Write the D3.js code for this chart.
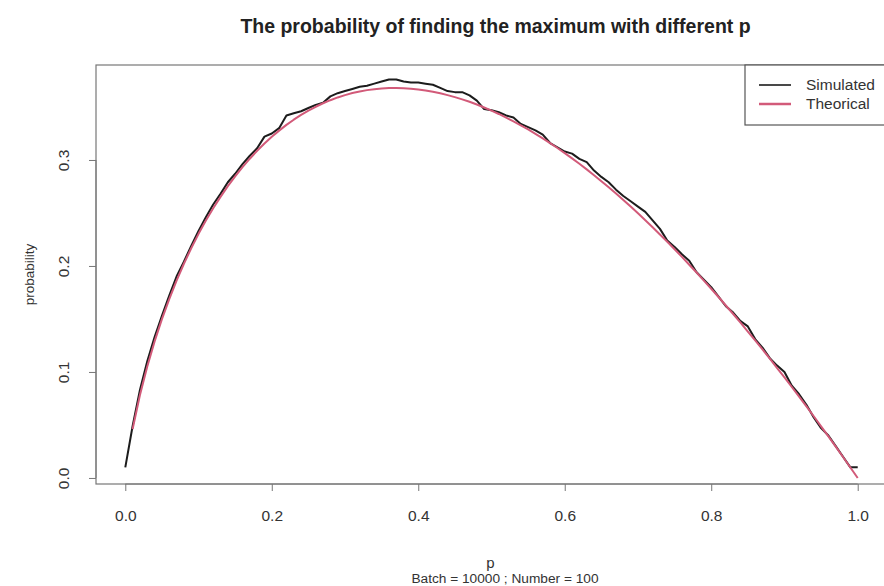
<!DOCTYPE html>
<html>
<head>
<meta charset="utf-8">
<script src="https://cdn.jsdelivr.net/npm/d3@7"></script>
<style>
  body { margin: 0; background: #fff; }
  text { font-family: "Liberation Sans", Arial, sans-serif; }
</style>
</head>
<body>
<div id="container"></div>
<script>
// p values from 0 to 1 in steps of 0.01
const pValues = d3.range(0, 101).map(i => i / 100);

// simulated probability
const simulated = [
  0.0100, 0.0490, 0.0830, 0.1100, 0.1330, 0.1530, 0.1720, 0.1900, 0.2040, 0.2190,
  0.2330, 0.2460, 0.2580, 0.2680, 0.2790, 0.2870, 0.2960, 0.3040, 0.3110, 0.3220,
  0.3250, 0.3300, 0.3420, 0.3440, 0.3460, 0.3490, 0.3520, 0.3540, 0.3600, 0.3630,
  0.3650, 0.3670, 0.3690, 0.3700, 0.3720, 0.3740, 0.3760, 0.3760, 0.3740, 0.3730,
  0.3730, 0.3720, 0.3710, 0.3680, 0.3650, 0.3640, 0.3640, 0.3610, 0.3560, 0.3480,
  0.3470, 0.3450, 0.3420, 0.3400, 0.3340, 0.3310, 0.3280, 0.3240, 0.3160, 0.3120,
  0.3080, 0.3060, 0.3010, 0.2980, 0.2900, 0.2840, 0.2790, 0.2720, 0.2660, 0.2610,
  0.2560, 0.2510, 0.2430, 0.2350, 0.2240, 0.2180, 0.2110, 0.2050, 0.1940, 0.1870,
  0.1800, 0.1710, 0.1620, 0.1560, 0.1480, 0.1430, 0.1310, 0.1230, 0.1130, 0.1060,
  0.1000, 0.0870, 0.0790, 0.0690, 0.0570, 0.0470, 0.0400, 0.0300, 0.0200, 0.0100,
  0.0100
];

// theoretical probability (none drawn at p = 0)
const theorical = [
  null,   0.0461, 0.0782, 0.1052, 0.1288, 0.1498, 0.1688, 0.1862, 0.2021, 0.2167,
  0.2303, 0.2428, 0.2544, 0.2652, 0.2753, 0.2846, 0.2932, 0.3012, 0.3087, 0.3155,
  0.3219, 0.3277, 0.3331, 0.3380, 0.3425, 0.3466, 0.3502, 0.3535, 0.3564, 0.3590,
  0.3612, 0.3631, 0.3646, 0.3659, 0.3668, 0.3674, 0.3678, 0.3679, 0.3677, 0.3672,
  0.3665, 0.3656, 0.3643, 0.3629, 0.3612, 0.3593, 0.3572, 0.3549, 0.3523, 0.3495,
  0.3466, 0.3434, 0.3400, 0.3365, 0.3327, 0.3288, 0.3247, 0.3204, 0.3159, 0.3113,
  0.3065, 0.3015, 0.2964, 0.2911, 0.2856, 0.2800, 0.2742, 0.2683, 0.2623, 0.2560,
  0.2497, 0.2432, 0.2365, 0.2297, 0.2228, 0.2158, 0.2086, 0.2012, 0.1938, 0.1862,
  0.1785, 0.1707, 0.1627, 0.1547, 0.1465, 0.1381, 0.1297, 0.1212, 0.1125, 0.1037,
  0.0948, 0.0858, 0.0767, 0.0675, 0.0582, 0.0487, 0.0392, 0.0295, 0.0198, 0.0099,
  0.0000
];

const xTicks = [0, 0.2, 0.4, 0.6, 0.8, 1.0];
const yTicks = [0, 0.1, 0.2, 0.3];
const legendLabels = ['Simulated', 'Theorical'];

const W = 884, H = 586;
const box = { left: 96, right: 887, top: 65, bottom: 484 };
const simColor = '#1c1c1c';
const theoColor = '#d25a79';
const textColor = '#333';
const fontFamily = '"Liberation Sans", Arial, sans-serif';

const svg = d3.select('#container')
    .append('svg')
    .attr('width', W)
    .attr('height', H);

const x = d3.scaleLinear().domain([-0.04, 1.04]).range([box.left, box.right]);
const y = d3.scaleLinear().domain([-0.0057, 0.3896]).range([box.bottom, box.top]);

// title
svg.append('text')
    .attr('x', (box.left + box.right) / 2 + 4)
    .attr('y', 33)
    .attr('text-anchor', 'middle')
    .attr('font-size', 19.5)
    .attr('font-weight', 'bold')
    .attr('fill', '#222')
    .text('The probability of finding the maximum with different p');

// x axis
const xAxis = svg.append('g')
    .attr('transform', `translate(0, ${box.bottom})`)
    .call(d3.axisBottom(x).tickValues(xTicks).tickFormat(d3.format('.1f')).tickSize(7).tickPadding(19));
xAxis.select('.domain').attr('d', `M${x(0)},0H${x(1)}`).attr('stroke', '#777');
xAxis.selectAll('.tick line').attr('stroke', '#777');
xAxis.selectAll('.tick text').attr('font-size', 15.5).attr('fill', textColor)
    .attr('font-family', fontFamily);

// y axis
const yAxis = svg.append('g')
    .attr('transform', `translate(${box.left}, 0)`)
    .call(d3.axisLeft(y).tickValues(yTicks).tickFormat(d3.format('.1f')).tickSize(7));
yAxis.select('.domain').attr('d', `M0,${y(0)}V${y(0.3)}`).attr('stroke', '#777');
yAxis.selectAll('.tick line').attr('stroke', '#777');
yAxis.selectAll('.tick text').remove();
yAxis.selectAll('.tick').append('text')
    .attr('transform', 'translate(-32, 0) rotate(-90)')
    .attr('text-anchor', 'middle')
    .attr('dy', '0.35em')
    .attr('font-size', 15.5)
    .attr('fill', textColor)
    .attr('font-family', fontFamily)
    .text(d => d3.format('.1f')(d));

// plot box
svg.append('rect')
    .attr('x', box.left)
    .attr('y', box.top)
    .attr('width', box.right - box.left)
    .attr('height', box.bottom - box.top)
    .attr('fill', 'none')
    .attr('stroke', '#777')
    .attr('stroke-width', 1.2);

// axis titles
svg.append('text')
    .attr('transform', `translate(34, ${(box.top + box.bottom) / 2}) rotate(-90)`)
    .attr('text-anchor', 'middle')
    .attr('font-size', 13.5)
    .attr('fill', textColor)
    .text('probability');

svg.append('text')
    .attr('x', (box.left + box.right) / 2 - 1)
    .attr('y', 568)
    .attr('text-anchor', 'middle')
    .attr('font-size', 15)
    .attr('fill', textColor)
    .text('p');

svg.append('text')
    .attr('x', 505)
    .attr('y', 583)
    .attr('text-anchor', 'middle')
    .attr('font-size', 13.7)
    .attr('fill', textColor)
    .text('Batch = 10000 ; Number = 100');

// curves
const line = d3.line()
    .defined(d => d.v !== null)
    .x(d => x(d.p))
    .y(d => y(d.v));

const simData = pValues.map((p, i) => ({ p: p, v: simulated[i] }));
const theoData = pValues.map((p, i) => ({ p: p, v: theorical[i] }));

svg.append('path')
    .datum(simData)
    .attr('d', line)
    .attr('fill', 'none')
    .attr('stroke', simColor)
    .attr('stroke-width', 2)
    .attr('stroke-linejoin', 'round');

svg.append('path')
    .datum(theoData)
    .attr('d', line)
    .attr('fill', 'none')
    .attr('stroke', theoColor)
    .attr('stroke-width', 2)
    .attr('stroke-linejoin', 'round');

// legend
const legend = svg.append('g');
legend.append('rect')
    .attr('x', 745)
    .attr('y', box.top)
    .attr('width', box.right - 745)
    .attr('height', 60)
    .attr('fill', '#fff')
    .attr('stroke', '#555')
    .attr('stroke-width', 1.2);

const legendItems = legend.selectAll('g.item')
    .data(legendLabels)
    .enter()
    .append('g')
    .attr('transform', (d, i) => `translate(0, ${85 + i * 19})`);

legendItems.append('line')
    .attr('x1', 759)
    .attr('x2', 791)
    .attr('stroke', (d, i) => i === 0 ? simColor : theoColor)
    .attr('stroke-width', (d, i) => i === 0 ? 1.6 : 2.5);

legendItems.append('text')
    .attr('x', 806)
    .attr('dy', '0.35em')
    .attr('font-size', 15.5)
    .attr('fill', textColor)
    .text(d => d);
</script>
</body>
</html>
